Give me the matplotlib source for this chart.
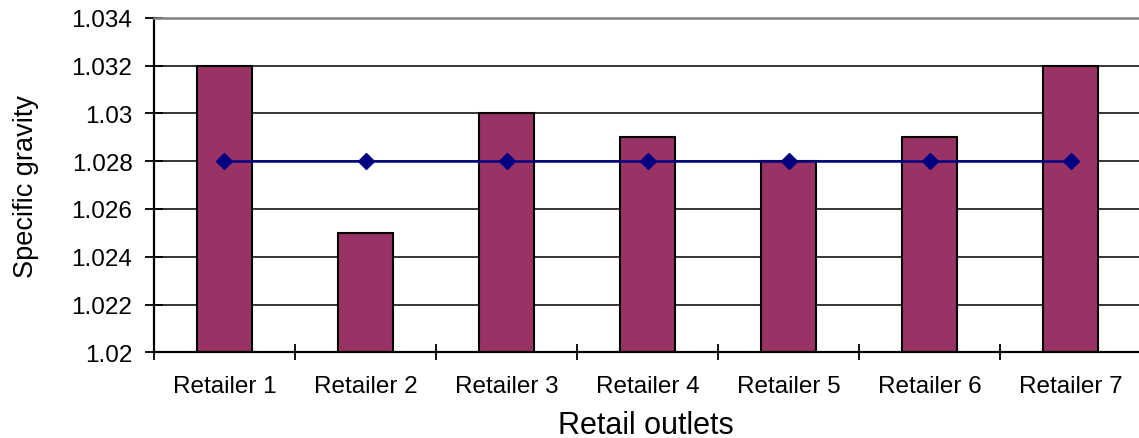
import numpy as np
import matplotlib
matplotlib.use('Agg')
import matplotlib.pyplot as plt
from matplotlib.ticker import FuncFormatter

# data
retailers = ['Retailer 1', 'Retailer 2', 'Retailer 3', 'Retailer 4',
             'Retailer 5', 'Retailer 6', 'Retailer 7']
sg = [1.032, 1.025, 1.030, 1.029, 1.028, 1.029, 1.032]
standard = [1.028, 1.028, 1.028, 1.028, 1.028, 1.028, 1.028]
yticks = [1.020, 1.022, 1.024, 1.026, 1.028, 1.030, 1.032, 1.034]

plt.rcParams['font.family'] = ['Liberation Sans', 'DejaVu Sans']

fig = plt.figure(figsize=(11.39, 4.39), dpi=100)
ax = fig.add_axes([0.1352, 0.1952, 0.8666, 0.7618])

x = np.arange(len(retailers))
ax.bar(x, sg, width=0.39, color='#993366', edgecolor='black', linewidth=1.5, zorder=2)
ax.plot(x, standard, color='#000080', linewidth=1.8, marker='D', markersize=8,
        markerfacecolor='#000080', markeredgecolor='#000080', zorder=3)

ax.set_ylim(1.020, 1.034)
ax.set_yticks(yticks)
ax.yaxis.set_major_formatter(FuncFormatter(lambda v, p: '%g' % round(v, 4)))
ax.set_xlim(-0.5, len(retailers) - 0.5)

# ticks between categories, labels at centres
ax.set_xticks(np.arange(-0.5, len(retailers)))
ax.set_xticklabels([])
ax.set_xticks(x, minor=True)
ax.set_xticklabels(retailers, minor=True)
ax.tick_params(axis='x', which='major', direction='inout', length=12, width=1.3)
ax.tick_params(axis='x', which='minor', length=0, pad=16, labelsize=17.5)
ax.tick_params(axis='y', direction='inout', length=13, width=1.3, pad=9, labelsize=17.5)

ax.grid(axis='y', color='black', linewidth=1.1, zorder=0)
ax.set_axisbelow(True)
ax.spines['right'].set_visible(False)
ax.spines['top'].set_color('#808080')
ax.spines['top'].set_linewidth(1.8)
ax.spines['left'].set_linewidth(1.6)
ax.spines['bottom'].set_linewidth(1.6)

ax.set_xlabel('Retail outlets', fontsize=22)
ax.xaxis.set_label_coords(0.498, -0.172)
ax.set_ylabel('Specific gravity', fontsize=19.5)
ax.yaxis.set_label_coords(-0.117, 0.5)

plt.savefig('out.png', dpi=100)
